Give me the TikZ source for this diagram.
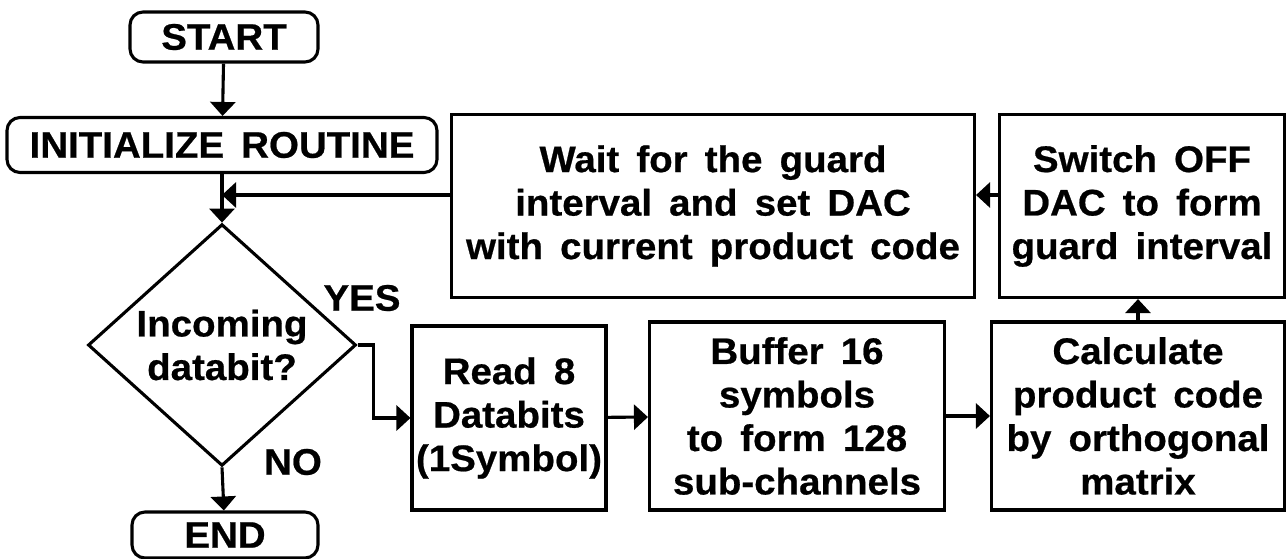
\documentclass[tikz,border=0pt]{standalone}
\usepackage{fontspec}
\setmainfont{Liberation Sans}[FakeStretch=1.04, WordSpace=1.6, BoldFeatures={FakeBold=0.6}]
\usetikzlibrary{arrows.meta, positioning, shapes.geometric}

\begin{document}
\begin{tikzpicture}[x=1pt, y=-1pt,
				>={Triangle[length=14pt, width=25pt]},
				line width=3.1pt,
				every node/.style={font=\bfseries\fontsize{37}{43.5}\selectfont,
					align=center, inner sep=0pt},
				term/.style={draw, rounded corners=13pt},
				block/.style={draw}]

				\useasboundingbox (0,0) rectangle (1287,558);

				% left column
				\node[term, minimum width=188pt, minimum height=50pt] (start) at (224,37) {START};
				\node[term, minimum width=430pt, minimum height=55pt] (init) at (222,145) {INITIALIZE ROUTINE};
				\node[draw, diamond, minimum width=268pt, minimum height=230pt] (dec) at (222,345) {Incoming\\databit?};
				\node[term, minimum width=186pt, minimum height=46pt] (end) at (225,535) {END};
				\node (yes) at (362,298) {YES};
				\node (no) at (293,462) {NO};

				% lower row
				\node[block, minimum width=194pt, minimum height=184pt] (read) at (509,418) {Read 8\\Databits\\(1Symbol)};
				\node[block, minimum width=295pt, minimum height=188pt] (buf) at (797,416) {Buffer 16\\symbols\\to form 128\\sub-channels};
				\node[block, minimum width=293pt, minimum height=188pt] (calc) at (1138,416) {Calculate\\product code\\by orthogonal\\matrix};

				% upper row
				\node[block, minimum width=285pt, minimum height=183pt] (sw) at (1142,206) {Switch OFF\\DAC to form\\guard interval};
				\node[block, minimum width=523pt, minimum height=183pt] (wait) at (713,206) {Wait for the guard\\interval and set DAC\\with current product code};

				\coordinate (back) at (init.south |- 0,195);

				\draw[->] (start) -- (init);
				\draw[->] (init) -- (dec);
				\draw[->] ([yshift=11pt]wait.west) -- (back);
				\draw[->] (dec.south) -- (end);
				\draw[->] (dec.east) -- ++(16,0) |- (read.west);
				\draw[->] (read) -- (buf);
				\draw[->] (buf) -- (calc);
				\draw[->] (calc.north) -- (calc.north |- sw.south);
				\draw[->] ([yshift=11pt]sw.west) -- ([yshift=11pt]wait.east);
			\end{tikzpicture}
\end{document}
